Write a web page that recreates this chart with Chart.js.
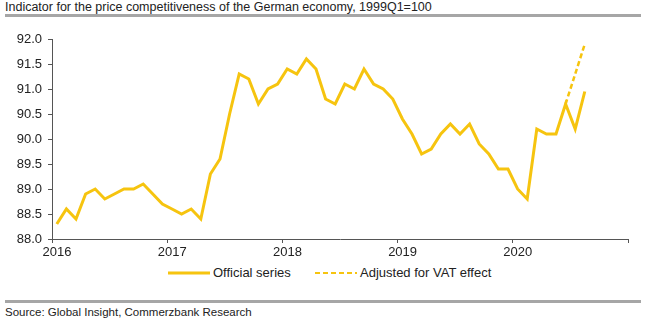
<!DOCTYPE html>
<html>
<head>
<meta charset="utf-8">
<script src="https://cdn.jsdelivr.net/npm/chart.js@4.4.1/dist/chart.umd.min.js"></script>
<style>
  body { margin: 0; background: #fff; font-family: "Liberation Sans", Arial, sans-serif; color: #222; }
  #wrap { position: relative; width: 670px; height: 321px; overflow: hidden; }
  #title { position: absolute; left: 5px; top: 0px; font-size: 12.5px; line-height: 14px; white-space: nowrap; }
  .rule { position: absolute; left: 5px; width: 636px; height: 3px; background: #a6a6a6; }
  #chartBox { position: absolute; left: 0; top: 0; width: 670px; height: 265px; }
  #legend { position: absolute; top: 265px; left: 0; width: 670px; height: 16px; font-size: 13px; }
  #legend span { position: absolute; top: 0; line-height: 16px; white-space: nowrap; }
  #legend svg { position: absolute; top: 6px; }
  #source { position: absolute; left: 5px; top: 305px; font-size: 11.5px; line-height: 14px; white-space: nowrap; }
</style>
</head>
<body>
<div id="wrap">
  <div id="title">Indicator for the price competitiveness of the German economy, 1999Q1=100</div>
  <div class="rule" style="top:14px"></div>
  <div id="chartBox"><canvas id="myChart" width="670" height="265"></canvas></div>
  <div id="legend">
    <svg style="left:168px" width="42" height="4"><line x1="0" y1="2" x2="42" y2="2" stroke="#F6C40F" stroke-width="3"/></svg>
    <span style="left:213px">Official series</span>
    <svg style="left:315px" width="42" height="4"><line x1="0" y1="2" x2="42" y2="2" stroke="#F6C40F" stroke-width="2" stroke-dasharray="5,3"/></svg>
    <span style="left:360px">Adjusted for VAT effect</span>
  </div>
  <div class="rule" style="top:300px"></div>
  <div id="source">Source: Global Insight, Commerzbank Research</div>
</div>
<script>
// monthly data, Jan 2016 - Aug 2020
const years = ['2016', '2017', '2018', '2019', '2020'];
const yTicks = [88.0, 88.5, 89.0, 89.5, 90.0, 90.5, 91.0, 91.5, 92.0];

const official = [
    88.3, 88.6, 88.4, 88.9, 89.0, 88.8, 88.9, 89.0, 89.0, 89.1, 88.9, 88.7,
    88.6, 88.5, 88.6, 88.4, 89.3, 89.6, 90.5, 91.3, 91.2, 90.7, 91.0, 91.1,
    91.4, 91.3, 91.6, 91.4, 90.8, 90.7, 91.1, 91.0, 91.4, 91.1, 91.0, 90.8,
    90.4, 90.1, 89.7, 89.8, 90.1, 90.3, 90.1, 90.3, 89.9, 89.7, 89.4, 89.4,
    89.0, 88.8, 90.2, 90.1, 90.1, 90.7, 90.2, 90.95
];
// VAT adjusted series, Jun - Aug 2020
const adjustedStart = 53;
const adjusted = [90.7, 91.3, 91.9];

const lineColor = '#F6C40F';
const axisColor = '#555';

// points sit in the middle of each month
let officialPts = official.map((v, i) => ({x: i + 0.5, y: v}));
let adjustedPts = adjusted.map((v, i) => ({x: adjustedStart + i + 0.5, y: v}));

const ctx = document.getElementById('myChart');

new Chart(ctx, {
    type: 'line',
    data: {
        datasets: [{
            label: 'Adjusted for VAT effect',
            data: adjustedPts,
            borderColor: lineColor,
            borderWidth: 2.5,
            borderDash: [5, 3],
            pointRadius: 0,
            tension: 0.2
        }, {
            label: 'Official series',
            data: officialPts,
            borderColor: lineColor,
            borderWidth: 3,
            pointRadius: 0,
            tension: 0
        }]
    },
    options: {
        responsive: false,
        animation: false,
        devicePixelRatio: 1,
        layout: {padding: {left: 0, right: 42, top: 39, bottom: 0}},
        plugins: {legend: {display: false}, tooltip: {enabled: false}},
        scales: {
            x: {
                type: 'linear',
                min: 0,
                max: years.length * 12,
                afterFit: (scale) => { scale.height = 26; },
                afterBuildTicks: (scale) => {
                    scale.ticks = [];
                    for (let i = 0; i <= years.length; i++) scale.ticks.push({value: i * 12});
                },
                ticks: {
                    autoSkip: false,
                    maxRotation: 0,
                    padding: 2,
                    labelOffset: 5,
                    color: '#222',
                    font: {family: 'Liberation Sans', size: 13},
                    callback: (v) => years[v / 12] || ''
                },
                grid: {drawOnChartArea: false, drawTicks: true, tickLength: 4, color: axisColor},
                border: {display: true, color: axisColor, width: 1}
            },
            y: {
                min: 88,
                max: 92,
                afterFit: (scale) => { scale.width = 52; },
                afterBuildTicks: (scale) => {
                    scale.ticks = yTicks.map(v => ({value: v}));
                },
                ticks: {
                    padding: 6,
                    color: '#222',
                    font: {family: 'Liberation Sans', size: 13},
                    callback: (v) => v.toFixed(1)
                },
                grid: {drawOnChartArea: false, drawTicks: true, tickLength: 4, color: axisColor},
                border: {display: true, color: axisColor, width: 1}
            }
        }
    }
});
</script>
</body>
</html>
